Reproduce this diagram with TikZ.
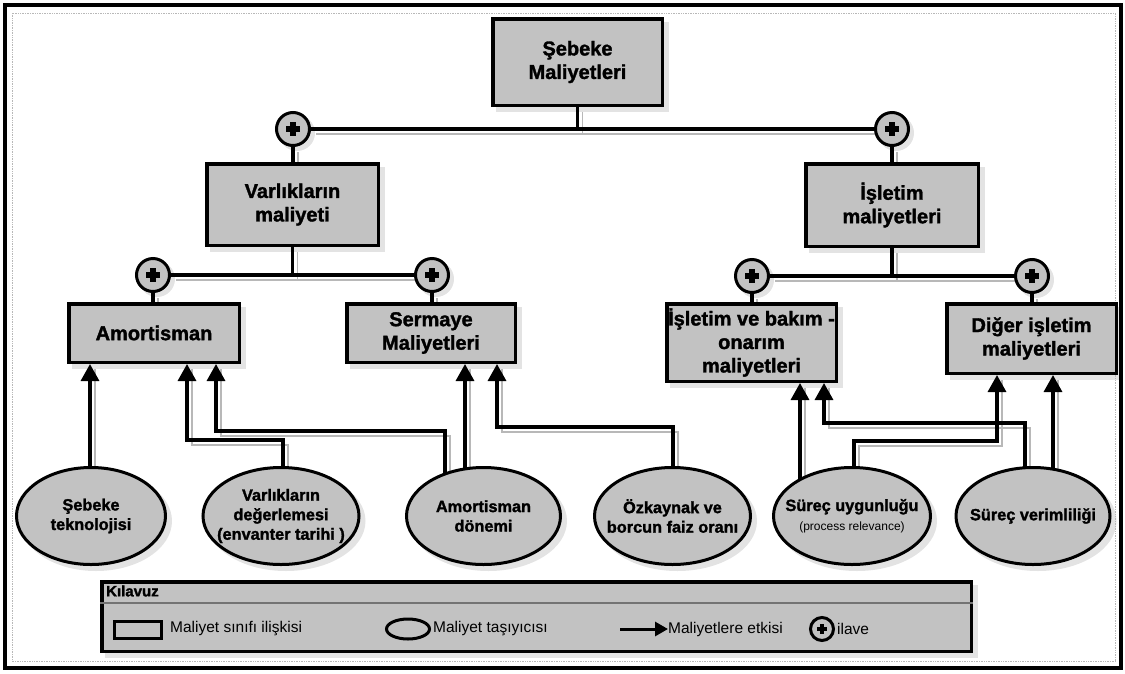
\documentclass[tikz,border=0pt]{standalone}
\usepackage{fontspec}
\setmainfont{Liberation Sans}[BoldFeatures={FakeBold=1.6}]
\usetikzlibrary{arrows.meta,shapes.geometric}
\pgfdeclarelayer{shade}
\pgfdeclarelayer{links}
\pgfsetlayers{shade,links,main}
\colorlet{boxfill}{black!24}
\colorlet{shadefill}{black!11}
\colorlet{shadeline}{black!28}
\tikzset{
  cost/.style={rectangle, draw, line width=3.5pt, fill=boxfill, align=center, inner sep=0pt,
    font=\bfseries\fontsize{20}{23.5}\selectfont},
  driver/.style={ellipse, draw, line width=3pt, fill=boxfill, inner sep=0pt, minimum height=97pt},
  drivertext/.style={align=center, inner sep=0pt, font=\bfseries\fontsize{16.3}{19.5}\selectfont},
  plusnode/.style={circle, draw, line width=3pt, fill=boxfill, inner sep=0pt, minimum size=#1pt,
    path picture={
      \fill[black] ([shift={(-0.2*#1pt,-0.08*#1pt)}]path picture bounding box.center) rectangle
            ([shift={(0.2*#1pt,0.08*#1pt)}]path picture bounding box.center);
      \fill[black] ([shift={(-0.08*#1pt,-0.2*#1pt)}]path picture bounding box.center) rectangle
            ([shift={(0.08*#1pt,0.2*#1pt)}]path picture bounding box.center);}},
  link/.style={line width=3.3pt},
  arr/.style={-{Triangle[width=18pt,length=17pt]}},
  linkshade/.style={draw=shadeline, line width=1.3pt},
  legtext/.style={anchor=west, inner sep=0pt, font=\fontsize{15.5}{19}\selectfont},
}
% connector with its offset shadow
\newcommand\costlink[2][]{%
  \begin{pgfonlayer}{shade}\draw[linkshade, transform canvas={shift={(5pt,-5pt)}}] #2;\end{pgfonlayer}%
  \begin{pgfonlayer}{links}\draw[link,#1] #2;\end{pgfonlayer}}

\begin{document}
\begin{tikzpicture}[x=1pt, y=-1pt]
\useasboundingbox (0,0) rectangle (1125,673);

% outer frame
\draw[line width=3.5pt] (5,5) rectangle (1121,668);
\draw[shadeline, densely dotted, line width=0.7pt] (12,13) rectangle (1115,661);

% cost classes
\node[cost, minimum width=169.5pt, minimum height=86.5pt] (top) at (577.5,62) {Şebeke\\Maliyetleri};
\node[cost, minimum width=171.5pt, minimum height=81.5pt] (va) at (292.5,204.5) {Varlıkların\\maliyeti};
\node[cost, minimum width=172.5pt, minimum height=82.5pt] (im) at (892,205) {İşletim\\maliyetleri};
\node[cost, minimum width=170.5pt, minimum height=58.5pt] (am) at (154,333) {Amortisman};
\node[cost, minimum width=168.5pt, minimum height=58.5pt] (se) at (431,333) {Sermaye\\Maliyetleri};
\node[cost, minimum width=169.5pt, minimum height=77.5pt] (ib) at (751.5,342.5) {İşletim ve bakım -\\onarım\\maliyetleri};
\node[cost, minimum width=169.5pt, minimum height=69.5pt] (di) at (1031.5,338.5) {Diğer işletim\\maliyetleri};

% additions
\node[plusnode=33] (pTL) at (293,129) {};
\node[plusnode=33] (pTR) at (892,129) {};
\node[plusnode=33] (pL1) at (153,275) {};
\node[plusnode=33] (pL2) at (432,275) {};
\node[plusnode=33] (pR1) at (752,276) {};
\node[plusnode=33] (pR2) at (1032,276) {};

% cost drivers
\node[driver, minimum width=149pt] (st) at (91,516) {};
\node[driver, minimum width=156pt] (vd) at (281,516) {};
\node[driver, minimum width=154pt] (ad) at (483.5,516) {};
\node[driver, minimum width=156pt] (oz) at (672.5,516) {};
\node[driver, minimum width=157pt] (su) at (852,516) {};
\node[driver, minimum width=154pt] (sv) at (1033,516) {};
\node[drivertext] (stt) at (st) {Şebeke\\teknolojisi};
\node[drivertext] (vdt) at (vd) {Varlıkların\\değerlemesi\\(envanter tarihi )};
\node[drivertext] (adt) at (ad) {Amortisman\\dönemi};
\node[drivertext] (ozt) at (oz) {Özkaynak ve\\borcun faiz oranı};
\node[drivertext] (sut) at (su) {Süreç uygunluğu\\{\mdseries\fontsize{12}{14}\selectfont (process relevance)}};
\node[drivertext] (svt) at (sv) {Süreç verimliliği};

% tree connectors
\costlink{(top.south) -- (top.south |- pTL)}
\costlink{(pTL) -- (pTR)}
\costlink{(pTL.south) -- (va.north -| pTL)}
\costlink{(pTR.south) -- (im.north -| pTR)}
\costlink{(va.south) -- (va.south |- pL1)}
\costlink{(pL1) -- (pL2)}
\costlink{(im.south) -- (im.south |- pR1)}
\costlink{(pR1) -- (pR2)}
\costlink{(pL1.south) -- (am.north -| pL1)}
\costlink{(pL2.south) -- (se.north -| pL2)}
\costlink{(pR1.south) -- (ib.north -| pR1)}
\costlink{(pR2.south) -- (di.north -| pR2)}

% driver influences
\costlink[arr]{(st.center -| 90,0) -- (am.south -| 90,0)}
\costlink[arr]{(vd.center -| 283,0) |- (187,440) -- (am.south -| 187,0)}
\costlink[arr]{(ad.center -| 445,0) |- (216,431) -- (am.south -| 216,0)}
\costlink[arr]{(ad.center -| 465,0) -- (se.south -| 465,0)}
\costlink[arr]{(oz.center -| 673,0) |- (497,427) -- (se.south -| 497,0)}
\costlink[arr]{(su.center -| 800,0) -- (ib.south -| 800,0)}
\costlink[arr]{(sv.center -| 1025,0) |- (824,423) -- (ib.south -| 824,0)}
\costlink[arr]{(su.center -| 854,0) |- (997,441) -- (di.south -| 997,0)}
\costlink[arr]{(sv.center -| 1053,0) -- (di.south -| 1053,0)}

% legend
\node[rectangle, draw, line width=3.5pt, fill=boxfill, minimum width=869.5pt, minimum height=69.5pt, inner sep=0pt] (leg) at (536.5,616.5) {};
\draw[black!55, line width=2pt] (leg.west |- 0,603) -- (leg.east |- 0,603);
\node[anchor=west, inner sep=0pt, font=\bfseries\fontsize{15}{18}\selectfont] (legtitle) at (106,591) {Kılavuz};
\node[rectangle, draw, line width=3.5pt, fill=boxfill, minimum width=47pt, minimum height=17pt, inner sep=0pt] (lbox) at (138,630) {};
\node[legtext] (lboxtxt) at (170,629) {Maliyet sınıfı ilişkisi};
\node[ellipse, draw, line width=3pt, fill=boxfill, minimum width=43pt, minimum height=20pt, inner sep=0pt] (lell) at (408,629) {};
\node[legtext] (lelltxt) at (433,629) {Maliyet taşıyıcısı};
\coordinate (larrs) at (620,629);
\node[legtext] (larrtxt) at (668,629) {Maliyetlere etkisi};
\draw[line width=3pt, -{Triangle[width=14pt,length=13pt]}] (larrs) -- (larrtxt.west);
\node[plusnode=23] (lplus) at (822,629) {};
\node[legtext] (lplustxt) at (837,629) {ilave};

% drop shadows of the shapes
\begin{pgfonlayer}{shade}
\foreach \n in {top,va,im,am,se,ib,di,leg}
  \fill[shadefill] ([shift={(5pt,-5pt)}]\n.south west) rectangle ([shift={(5pt,-5pt)}]\n.north east);
\foreach \n/\rx in {st/76,vd/79.5,ad/78.5,oz/79.5,su/80,sv/78.5}
  \fill[shadefill] ([shift={(5pt,-5pt)}]\n.center) ellipse [x radius=\rx pt, y radius=50pt];
\foreach \n in {pTL,pTR,pL1,pL2,pR1,pR2}
  \fill[shadefill] ([shift={(4pt,-4pt)}]\n.center) circle [radius=18pt];
\end{pgfonlayer}
\end{tikzpicture}
\end{document}
